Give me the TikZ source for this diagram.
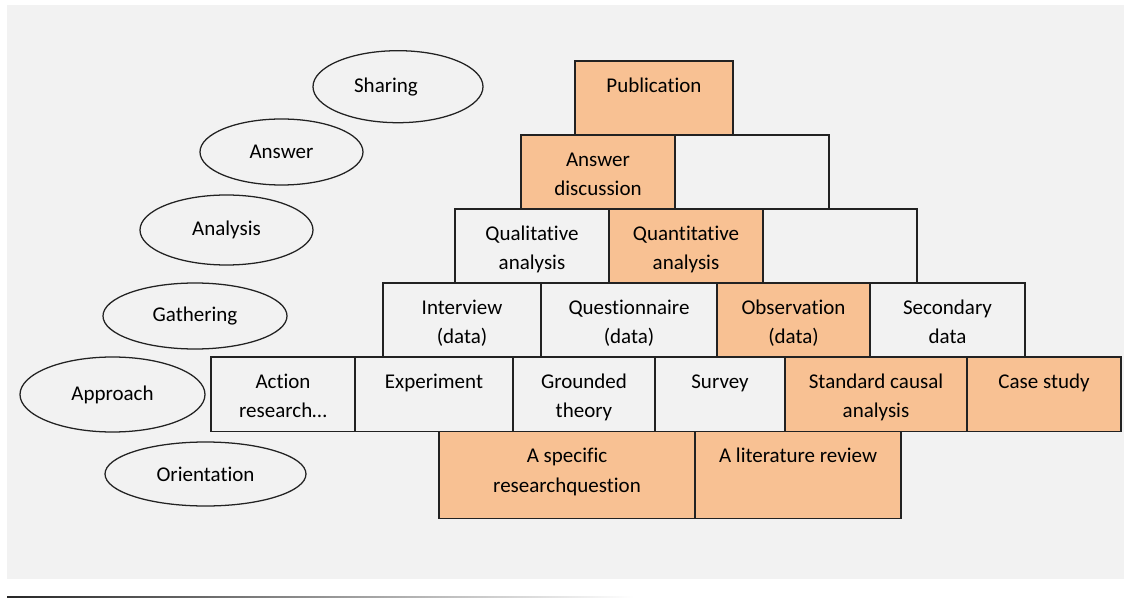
\documentclass[tikz,border=0pt]{standalone}
\usepackage{fontspec}
\setmainfont{Carlito}[Ligatures=NoCommon]
\usetikzlibrary{shapes.geometric}

\definecolor{panel}{HTML}{F2F2F2}
\definecolor{peach}{HTML}{F8C193}
\definecolor{edge}{HTML}{222222}

% first-line strut: puts the first baseline 31px below the top edge
\newcommand{\firstline}{\rule{0pt}{23.25pt}}

% \brick{name}{x1}{y1}{x2}{y2}{fill style}{text}
\newcommand{\brick}[7]{%
  \node[brickbox,#6,minimum width={(#4-#2)*0.75pt},minimum height={(#5-#3)*0.75pt},
        anchor=north west] (#1) at (#2,#3) {};
  \node[bricktext] (#1-label) at (#1.north) {\firstline#7};
}

\tikzset{
  brickbox/.style={draw=edge,line width=0.95pt,inner sep=0pt,outer sep=0pt},
  warm/.style={fill=peach},
  plain/.style={fill=panel},
  bricktext/.style={anchor=north,inner sep=0pt,align=center,text=black,
                    font=\fontsize{15.75}{22}\selectfont},
  level/.style={ellipse,draw=edge,line width=0.95pt,inner sep=0pt,fill=panel,
                font=\fontsize{15.75}{22}\selectfont}
}

\begin{document}
\begin{tikzpicture}[x=0.75pt,y=-0.75pt]
  \useasboundingbox (0,0) rectangle (1124,598);
  % grey panel
  \fill[panel] (7,5) rectangle (1124,579);
  % fading rule underneath
  \shade[left color=black!85,right color=white] (7,596.3) rectangle (634,597.7);

  % level ellipses
  \node[level,minimum width=170*0.75pt,minimum height=72*0.75pt] (sharing) at (398,86.7) {\hspace*{-18pt}\raisebox{2.5pt}{Sharing}};
  \node[level,minimum width=163*0.75pt,minimum height=66*0.75pt] (answer) at (281.5,152) {Answer};
  \node[level,minimum width=173*0.75pt,minimum height=70*0.75pt] (analysis) at (226.5,230) {Analysis};
  \node[level,minimum width=184*0.75pt,minimum height=66*0.75pt] (gathering) at (195,316) {Gathering};
  \node[level,minimum width=185*0.75pt,minimum height=75*0.75pt] (approach) at (112.5,394.5) {Approach};
  \node[level,minimum width=201*0.75pt,minimum height=64*0.75pt] (orientation) at (205.5,474) {Orientation};

  % sharing
  \brick{pub}{575}{61}{733}{135}{warm}{Publication}
  % answer
  \brick{ansd}{521}{135}{675}{209}{warm}{Answer\\discussion}
  \brick{ansx}{675}{135}{829}{209}{plain}{}
  % analysis
  \brick{qual}{455}{209}{609}{283}{plain}{Qualitative\\analysis}
  \brick{quant}{609}{209}{763}{283}{warm}{Quantitative\\analysis}
  \brick{anax}{763}{209}{917}{283}{plain}{}
  % gathering
  \brick{intv}{383}{283}{541}{357}{plain}{Interview\\(data)}
  \brick{quest}{541}{283}{717}{357}{plain}{Questionnaire\\(data)}
  \brick{obs}{717}{283}{870}{357}{warm}{Observation\\(data)}
  \brick{sec}{870}{283}{1025}{357}{plain}{Secondary\\data}
  % approach
  \brick{act}{211}{357}{355}{431.5}{plain}{Action\\research…}
  \brick{expm}{355}{357}{513}{431.5}{plain}{Experiment}
  \brick{grd}{513}{357}{655}{431.5}{plain}{Grounded\\theory}
  \brick{srv}{655}{357}{785}{431.5}{plain}{Survey}
  \brick{std}{785}{357}{967}{431.5}{warm}{Standard causal\\analysis}
  \brick{case}{967}{357}{1121}{431.5}{warm}{Case study}
  % orientation
  \brick{spec}{439}{431.5}{695}{518.5}{warm}{A specific\\researchquestion}
  \brick{lit}{695}{431.5}{901}{518.5}{warm}{A literature review}
\end{tikzpicture}
\end{document}
